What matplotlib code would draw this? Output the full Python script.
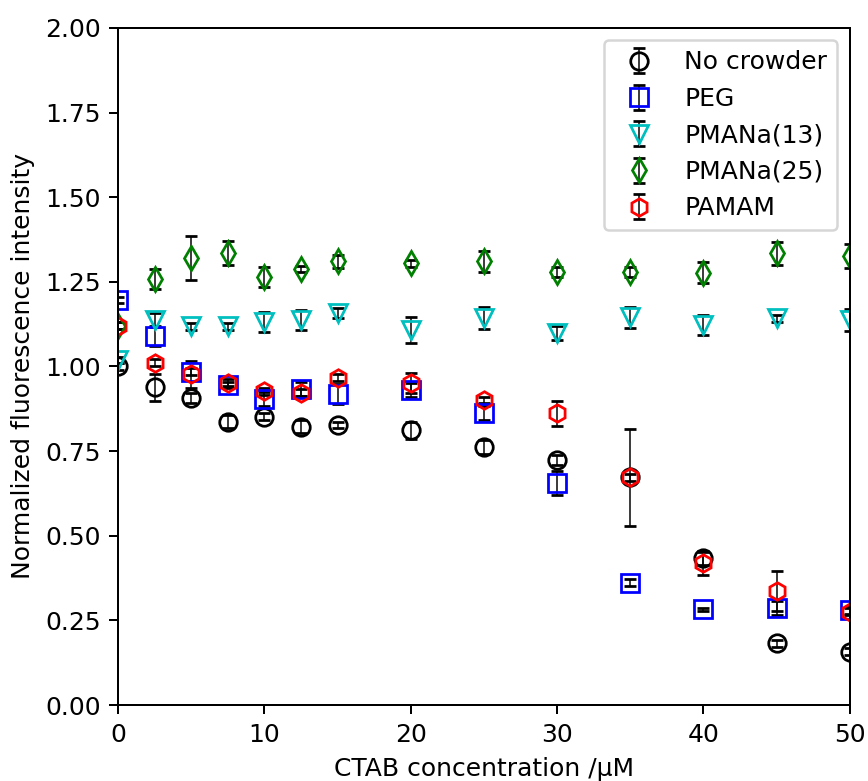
"""Fluorescence vs CTAB concentration"""
import numpy as np
import matplotlib
matplotlib.use("Agg")
import matplotlib.pyplot as plt

DPI = 180

# CTAB concentration (uM)
ctab = [0, 2.5, 5, 7.5, 10, 12.5, 15, 20, 25, 30, 35, 40, 45, 50]

# Normalized fluorescence intensity and errors
no_crowder = [1.00, 0.939, 0.907, 0.837, 0.852, 0.822, 0.827, 0.812, 0.762, 0.724, 0.672, 0.433, 0.182, 0.157]
no_crowder_err = [0.01, 0.04, 0.015, 0.02, 0.01, 0.02, 0.01, 0.025, 0.02, 0.015, 0.01, 0.02, 0.01, 0.01]

peg = [1.196, 1.09, 0.985, 0.945, 0.904, 0.933, 0.918, 0.93, 0.862, 0.655, 0.361, 0.283, 0.286, 0.28]
peg_err = [0.01, 0.03, 0.01, 0.01, 0.02, 0.02, 0.03, 0.02, 0.02, 0.036, 0.01, 0.005, 0.02, 0.01]

pmana13 = [1.019, 1.137, 1.118, 1.118, 1.132, 1.137, 1.157, 1.108, 1.143, 1.099, 1.145, 1.123, 1.142, 1.137]
pmana13_err = [0.01, 0.02, 0.01, 0.01, 0.03, 0.03, 0.015, 0.038, 0.032, 0.02, 0.03, 0.03, 0.01, 0.033]

pmana25 = [1.12, 1.258, 1.32, 1.335, 1.265, 1.288, 1.31, 1.305, 1.31, 1.28, 1.28, 1.277, 1.334, 1.326]
pmana25_err = [0.01, 0.03, 0.065, 0.035, 0.03, 0.01, 0.02, 0.01, 0.03, 0.015, 0.015, 0.032, 0.035, 0.035]

pamam = [1.12, 1.011, 0.977, 0.952, 0.926, 0.923, 0.967, 0.951, 0.901, 0.862, 0.672, 0.42, 0.337, 0.276]
pamam_err = [0.01, 0.01, 0.04, 0.01, 0.01, 0.01, 0.01, 0.03, 0.01, 0.037, 0.143, 0.035, 0.06, 0.01]

SERIES = [
    ("No crowder", no_crowder, no_crowder_err, "o", "k"),
    ("PEG", peg, peg_err, "s", "b"),
    ("PMANa(13)", pmana13, pmana13_err, "v", "c"),
    ("PMANa(25)", pmana25, pmana25_err, "d", "g"),
    ("PAMAM", pamam, pamam_err, "h", "r"),
]

fig = plt.figure(figsize=(868 / DPI, 781 / DPI), dpi=DPI)
ax = fig.add_axes([0.136, 0.0973, 0.843, 0.867])

for label, vals, errs, marker, color in SERIES:
    ax.errorbar(ctab, vals, yerr=errs, fmt=marker, mfc="none", mec=color,
                mew=1.1, ms=7, ecolor="k", elinewidth=0.6, capsize=2.5,
                capthick=1.2, label=label)

ax.set_xlim(0, 50)
ax.set_ylim(0, 2.0)
ax.set_yticks(np.arange(0, 2.01, 0.25))
ax.set_xlabel("CTAB concentration /\u03bcM")
ax.set_ylabel("Normalized fluorescence intensity")
ax.legend(loc="upper right")

fig.savefig("out.png", dpi=DPI)
